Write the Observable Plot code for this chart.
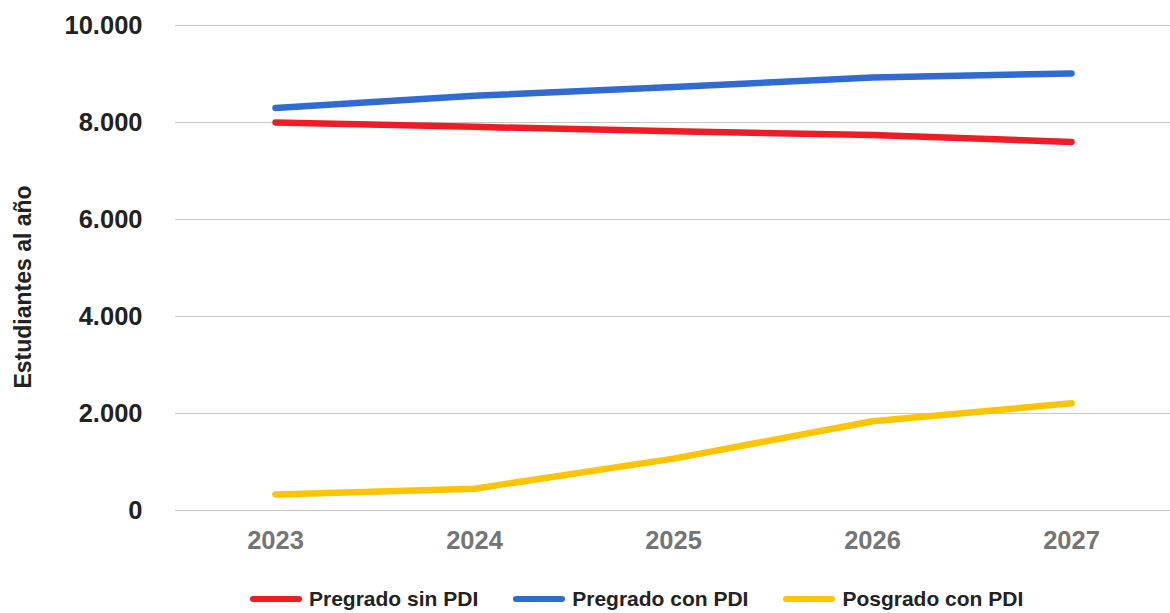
<!DOCTYPE html>
<html>
<head>
<meta charset="utf-8">
<script src="https://cdn.jsdelivr.net/npm/d3@7"></script>
<script src="https://cdn.jsdelivr.net/npm/@observablehq/plot@0.6"></script>
<style>
  html, body { margin: 0; padding: 0; background: #fff; }
  #wrap { position: relative; width: 1170px; height: 613px; font-family: "Liberation Sans", Arial, sans-serif; }
  #legend { position: absolute; left: 250px; top: 586px; height: 26px; display: flex; align-items: center; font-weight: bold; font-size: 21px; color: #222; white-space: nowrap; }
  .item { display: flex; align-items: center; margin-right: 35px; }
  .sw { display: inline-block; width: 52px; height: 6px; border-radius: 3px; margin-right: 7px; }
</style>
</head>
<body>
<div id="wrap"><div id="chart"></div><div id="legend"></div></div>
<script>
const years = ["2023", "2024", "2025", "2026", "2027"];
const seriesNames = ["Pregrado sin PDI", "Pregrado con PDI", "Posgrado con PDI"];
const seriesColors = ["#ee1c25", "#316bd0", "#ffc400"];
const pregradoSinPDI = [8000, 7910, 7820, 7740, 7600];
const pregradoConPDI = [8300, 8550, 8730, 8930, 9010];
const posgradoConPDI = [330, 450, 1070, 1840, 2210];
const yTicks = [0, 2000, 4000, 6000, 8000, 10000];
const yLabel = "Estudiantes al año";

const seriesValues = [pregradoSinPDI, pregradoConPDI, posgradoConPDI];
const data = seriesNames.flatMap((s, i) =>
  years.map((y, j) => ({ series: s, year: y, value: seriesValues[i][j] }))
);
const fmt = d => d3.format(",")(d).replace(/,/g, ".");

const chart = Plot.plot({
  width: 1170,
  height: 570,
  marginLeft: 175,
  marginRight: 0,
  marginTop: 25,
  marginBottom: 60,
  style: { fontFamily: "'Liberation Sans', Arial, sans-serif", fontWeight: "bold", overflow: "visible", background: "#fff" },
  x: { type: "point", domain: years, padding: 0.5 },
  y: { domain: [0, 10000] },
  color: { domain: seriesNames, range: seriesColors },
  marks: [
    Plot.gridY(yTicks, { stroke: "#c8c8c8", strokeOpacity: 1, strokeWidth: 1 }),
    Plot.axisY(yTicks, { tickSize: 0, tickPadding: 33, fontSize: 25.5, color: "#222", tickFormat: fmt, label: null }),
    Plot.text([yLabel], { text: d => d, frameAnchor: "left", rotate: -90, textAnchor: "middle", lineAnchor: "middle", dx: -152, dy: 19, fontSize: 23, fontWeight: "bold", fill: "#222" }),
    Plot.axisX(years, { tickSize: 0, tickPadding: 20, fontSize: 25.5, color: "#757575", label: null }),
    Plot.line(data, { x: "year", y: "value", z: "series", stroke: "series", strokeWidth: 6.5, strokeLinecap: "round", strokeLinejoin: "round" })
  ]
});
document.getElementById("chart").appendChild(chart);

const legend = document.getElementById("legend");
seriesNames.forEach((s, i) => {
  const item = document.createElement("div");
  item.className = "item";
  const sw = document.createElement("span");
  sw.className = "sw";
  sw.style.background = seriesColors[i];
  const t = document.createElement("span");
  t.textContent = s;
  item.appendChild(sw);
  item.appendChild(t);
  legend.appendChild(item);
});
</script>
</body>
</html>
